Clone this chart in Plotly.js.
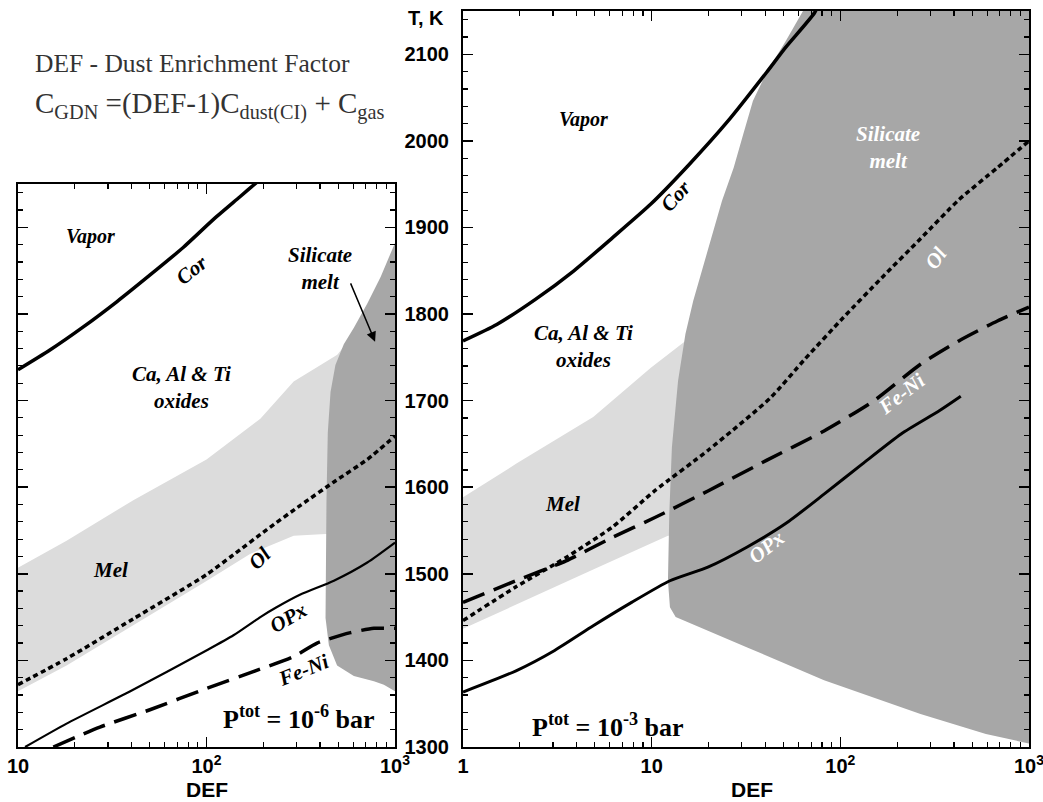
<!DOCTYPE html>
<html><head><meta charset="utf-8">
<script src="https://cdn.plot.ly/plotly-3.0.1.min.js"></script>
<style>html,body{margin:0;padding:0;background:#fff}#chart{width:1043px;height:802px}</style>
</head><body><div id="chart"></div>
<script>
// ---------- Left panel: P_tot = 1e-6 bar ----------
const leftCorDEF = [10, 14.7, 22.2, 33.4, 50.2, 75.5, 110, 150, 185, 200];
const leftCorT   = [1735.5, 1758, 1785, 1814, 1845, 1877, 1910, 1935, 1952, 1958];
const leftOlDEF  = [10, 18.1, 40.9, 100, 139, 209, 315, 474, 713, 1000];
const leftOlT    = [1372, 1402, 1448, 1499, 1522, 1551, 1579, 1606, 1632, 1659];
const leftOpxDEF = [10.9, 18.1, 40.8, 101, 139, 193, 234, 315, 474, 713, 1000];
const leftOpxT   = [1300, 1327, 1366, 1412, 1429, 1450, 1461, 1476, 1492, 1513, 1536];
const leftFeNiDEF = [15.4, 27.2, 50.1, 101, 177, 288, 386, 581, 773, 1000];
const leftFeNiT   = [1300, 1323, 1343, 1368, 1387, 1404, 1420, 1432, 1437, 1437];
const leftMeltDEF = [1000, 840, 713, 605, 535, 483, 455, 440, 433, 428, 428, 446, 493, 605, 773, 873, 1000];
const leftMeltT   = [1882, 1843, 1812, 1784, 1765, 1741, 1710, 1663, 1585, 1507, 1449, 1417.5, 1394, 1382, 1376, 1372, 1364.5];
const leftMelDEF = [10, 18.1, 40.9, 100, 193, 290, 403, 494, 605, 800, 800, 428, 290, 171, 100, 40.9, 18.1, 10];
const leftMelT   = [1507, 1538, 1585, 1632, 1679, 1722, 1741, 1753, 1776.6, 1776.6, 1546, 1546, 1544, 1523, 1491.6, 1441, 1394, 1364.5];

// ---------- Right panel: P_tot = 1e-3 bar ----------
const rightCorDEF = [1, 1.51, 2.42, 3.87, 6.19, 9.9, 15.85, 25.4, 40.6, 51.3, 73, 78];
const rightCorT   = [1769, 1788, 1817, 1850, 1888, 1927, 1973, 2023, 2079, 2108, 2148, 2162];
const rightOlDEF  = [1, 1.91, 3.52, 6.19, 10.4, 20, 42.5, 64.9, 103.8, 166, 266, 425, 680, 1000];
const rightOlT    = [1446, 1485, 1519, 1554, 1596, 1643, 1703, 1748, 1796, 1842, 1887, 1932, 1969, 2000];
const rightFeNiDEF = [1, 1.91, 3.52, 6.19, 10.4, 20, 40.6, 82, 151, 266, 425, 680, 1000];
const rightFeNiT   = [1467, 1492, 1515, 1542, 1565, 1596, 1631, 1665, 1700, 1742, 1769, 1792, 1808];
const rightOpxDEF = [1, 1.91, 3.06, 4.9, 7.83, 12.5, 20, 32.1, 51.3, 82, 131, 210, 336, 435];
const rightOpxT   = [1363.5, 1388, 1411.5, 1440, 1467, 1492, 1508, 1531, 1558, 1592, 1627, 1661.5, 1688.5, 1705];
const rightMeltDEF = [63.4, 51.3, 40.6, 34.4, 30.6, 27.2, 23.6, 21.0, 18.7, 16.6, 15.1, 14.1, 13.8, 12.8, 12.4, 12.2, 12.5, 13.4, 18.2, 32.1, 82, 266, 591, 1000, 1000];
const rightMeltT   = [2150, 2115, 2079, 2046, 2008, 1969, 1931, 1892, 1854, 1815, 1777, 1738, 1723, 1646, 1569, 1492, 1461.5, 1450, 1438, 1415, 1377, 1338, 1315, 1304, 2150];
const rightMelDEF = [1, 1.91, 4.9, 6.19, 9.9, 15.1, 20, 20, 12.2, 4.9, 1.91, 1];
const rightMelT   = [1588.5, 1627, 1681, 1700, 1738, 1769, 1769, 1544, 1544, 1505, 1464, 1436.5];

// ---------- Tick labels ----------
const leftXTicks = [10, 100, 1000];
const leftXText  = ['10', '10<sup>2</sup>', '10<sup>3</sup>'];
const rightXTicks = [1, 10, 100, 1000];
const rightXText  = ['1', '10', '10<sup>2</sup>', '10<sup>3</sup>'];
const minorLog = [];
[1, 10, 100].forEach(d => { for (let k = 2; k <= 9; k++) minorLog.push(k * d); });

const W = 1043, H = 802;
const px = v => v / W, py = v => 1 - v / H;
const L = Math.log10;

const MELT = '#a7a7a7', MEL = '#dcdcdc';
function fillTrace(x, y, color, xa, ya) {
  return {x, y, xaxis: xa, yaxis: ya, type: 'scatter', mode: 'lines', fill: 'toself',
    fillcolor: color, line: {width: 0, color: color}, hoverinfo: 'skip'};
}
function lineTrace(x, y, w, dash, xa, ya) {
  return {x, y, xaxis: xa, yaxis: ya, type: 'scatter', mode: 'lines',
    line: {color: '#000', width: w, dash: dash, shape: 'spline', smoothing: 0.6}, hoverinfo: 'skip'};
}
const DOT = '5px,3.5px', DASH = '23px,10px';
const data = [
  fillTrace(leftMelDEF, leftMelT, MEL, 'x', 'y'),
  fillTrace(leftMeltDEF, leftMeltT, MELT, 'x', 'y'),
  lineTrace(leftCorDEF, leftCorT, 3.5, 'solid', 'x', 'y'),
  lineTrace(leftOlDEF, leftOlT, 3.5, DOT, 'x', 'y'),
  lineTrace(leftOpxDEF, leftOpxT, 2.2, 'solid', 'x', 'y'),
  lineTrace(leftFeNiDEF, leftFeNiT, 3.5, DASH, 'x', 'y'),
  fillTrace(rightMelDEF, rightMelT, MEL, 'x2', 'y2'),
  fillTrace(rightMeltDEF, rightMeltT, MELT, 'x2', 'y2'),
  lineTrace(rightCorDEF, rightCorT, 3.5, 'solid', 'x2', 'y2'),
  lineTrace(rightOlDEF, rightOlT, 3.5, DOT, 'x2', 'y2'),
  lineTrace(rightFeNiDEF, rightFeNiT, 3.5, DASH, 'x2', 'y2'),
  lineTrace(rightOpxDEF, rightOpxT, 3, 'solid', 'x2', 'y2'),
];

const tickFont = {family: 'Liberation Sans, Arial, sans-serif', size: 20, color: '#000', weight: 'bold'};
const common = {showline: true, linecolor: '#000', linewidth: 2, mirror: 'ticks', ticks: 'inside',
  tickcolor: '#000', tickwidth: 1.5, showgrid: false, zeroline: false, fixedrange: true, tickfont: tickFont,
  ticklabeloverflow: 'allow'};

const serif = 'Liberation Serif, Times New Roman, serif';
function lab(text, xa, ya, x, y, opts) {
  opts = opts || {};
  return {xref: xa, yref: ya, x: L(x), y: y, text: '<b><i>' + text + '</i></b>', showarrow: false,
    font: {family: serif, size: opts.size || 21, color: opts.color || '#000'}, textangle: opts.angle || 0,
    xanchor: 'center', yanchor: 'middle'};
}
const annotations = [
  {xref: 'paper', yref: 'paper', x: px(33), y: py(63), xanchor: 'left', yanchor: 'middle', showarrow: false,
    text: 'DEF - Dust Enrichment Factor', font: {family: serif, size: 25.5, color: '#333'}},
  {xref: 'paper', yref: 'paper', x: px(33), y: py(106), xanchor: 'left', yanchor: 'middle', showarrow: false,
    text: 'C<sub>GDN</sub> =(DEF-1)C<sub>dust(CI)</sub> + C<sub>gas</sub>', font: {family: serif, size: 29, color: '#333'}},
  {xref: 'paper', yref: 'paper', x: px(446), y: py(18), xanchor: 'right', yanchor: 'middle', showarrow: false,
    text: 'T, K', font: tickFont},
  {xref: 'paper', yref: 'paper', x: px(206.5), y: py(789), xanchor: 'center', yanchor: 'middle', showarrow: false,
    text: 'DEF', font: Object.assign({}, tickFont, {size: 21})},
  {xref: 'paper', yref: 'paper', x: px(752), y: py(789), xanchor: 'center', yanchor: 'middle', showarrow: false,
    text: 'DEF', font: Object.assign({}, tickFont, {size: 21})},
  // left panel labels
  lab('Vapor', 'x', 'y', 24.1, 1889, {size: 20}),
  lab('Cor', 'x', 'y', 83.4, 1851, {angle: -38}),
  lab('Silicate<br>melt', 'x', 'y', 400, 1852),
  lab('Ca, Al &amp; Ti<br>oxides', 'x', 'y', 73.8, 1714.5),
  lab('Mel', 'x', 'y', 30.8, 1504),
  lab('Ol', 'x', 'y', 192, 1518, {angle: -45}),
  lab('OPx', 'x', 'y', 271, 1449, {angle: -30}),
  lab('Fe-Ni', 'x', 'y', 327, 1389, {angle: -22}),
  {xref: 'x', yref: 'y', x: L(309), y: 1333.5, showarrow: false, xanchor: 'center', yanchor: 'middle',
    text: '<b>P<sup>tot</sup> = 10<sup>-6</sup> bar</b>', font: {family: serif, size: 26, color: '#000'}},
  {xref: 'x', yref: 'y', axref: 'x', ayref: 'y', x: L(784), y: 1768, ax: L(577), ay: 1837, text: '',
    showarrow: true, arrowhead: 2, arrowsize: 1.3, arrowwidth: 1.5, arrowcolor: '#000'},
  // right panel labels
  lab('Vapor', 'x2', 'y2', 4.35, 2025, {size: 20}),
  lab('Cor', 'x2', 'y2', 13.4, 1936.5, {angle: -48}),
  lab('Silicate<br>melt', 'x2', 'y2', 178, 1992, {color: '#fff'}),
  lab('Ca, Al &amp; Ti<br>oxides', 'x2', 'y2', 4.35, 1763),
  lab('Mel', 'x2', 'y2', 3.36, 1581),
  lab('Ol', 'x2', 'y2', 321, 1865, {angle: -55, color: '#fff'}),
  lab('Fe-Ni', 'x2', 'y2', 210, 1708, {angle: -38, color: '#fff'}),
  lab('OPx', 'x2', 'y2', 40.6, 1531, {angle: -38, color: '#fff'}),
  {xref: 'x2', yref: 'y2', x: L(5.9), y: 1325, showarrow: false, xanchor: 'center', yanchor: 'middle',
    text: '<b>P<sup>tot</sup> = 10<sup>-3</sup> bar</b>', font: {family: serif, size: 26, color: '#000'}},
];

const layout = {
  width: W, height: H, showlegend: false, paper_bgcolor: '#fff', plot_bgcolor: 'rgba(0,0,0,0)',
  margin: {l: 0, r: 0, t: 0, b: 0, pad: 0},
  xaxis: Object.assign({}, common, {type: 'log', domain: [px(18), px(395)], range: [1, 3], anchor: 'y',
    tickmode: 'array', tickvals: leftXTicks, ticktext: leftXText, ticklen: 10, ticklabelstandoff: 0,
    minor: {tickmode: 'array', tickvals: minorLog, ticks: 'inside', ticklen: 5, tickwidth: 1.2, tickcolor: '#000'}}),
  yaxis: Object.assign({}, common, {domain: [py(747), py(184)], range: [1300, 1950], anchor: 'x',
    tick0: 1300, dtick: 100, ticklen: 10, showticklabels: false,
    minor: {dtick: 20, ticks: 'inside', ticklen: 5, tickwidth: 1.2, tickcolor: '#000'}}),
  xaxis2: Object.assign({}, common, {type: 'log', domain: [px(463), px(1029)], range: [0, 3], anchor: 'y2',
    tickmode: 'array', tickvals: rightXTicks, ticktext: rightXText, ticklen: 10, ticklabelstandoff: 0,
    minor: {tickmode: 'array', tickvals: minorLog, ticks: 'inside', ticklen: 5, tickwidth: 1.2, tickcolor: '#000'}}),
  yaxis2: Object.assign({}, common, {domain: [py(747), py(11)], range: [1300, 2150], anchor: 'x2',
    tick0: 1300, dtick: 100, ticklen: 10, ticklabelstandoff: 8,
    minor: {dtick: 20, ticks: 'inside', ticklen: 5, tickwidth: 1.2, tickcolor: '#000'}}),
  annotations: annotations,
};
Plotly.newPlot('chart', data, layout, {displayModeBar: false, staticPlot: true});
</script></body></html>
